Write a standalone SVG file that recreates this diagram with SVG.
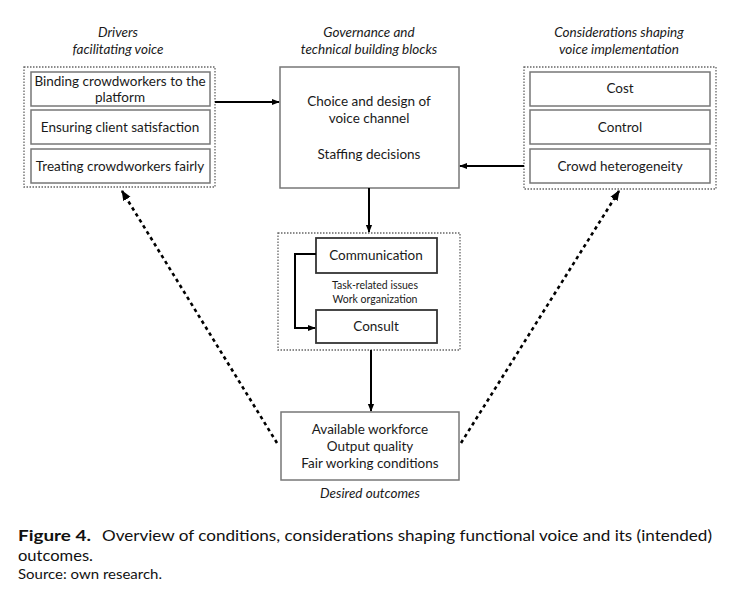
<svg xmlns="http://www.w3.org/2000/svg" width="739" height="602" viewBox="0 0 739 602">
<style>
.t{font-family:Lato,"Open Sans",sans-serif;font-size:13.5px;fill:#1a1a1a;text-anchor:middle}
.it{font-family:Lato,"Open Sans",sans-serif;font-size:13.5px;fill:#1a1a1a;text-anchor:middle;font-style:italic}
.box{fill:#fff;stroke:#777;stroke-width:1.5}
.dbox{fill:#fff;stroke:#333;stroke-width:1.8}
.grp{fill:none;stroke:#666;stroke-width:1.3;stroke-dasharray:1.5,1.5}
.ln{fill:none;stroke:#000;stroke-width:2}
.dl{fill:none;stroke:#000;stroke-width:2.6;stroke-dasharray:3.5,3.5}
.cap{font-family:Lato,"Open Sans",sans-serif;fill:#111}
</style>
<defs>
<marker id="ah" viewBox="0 0 10 10" refX="9" refY="5" markerWidth="4" markerHeight="4" orient="auto"><path d="M0,1 L10,5 L0,9 z" fill="#000"/></marker>
</defs>
<rect width="739" height="602" fill="#fff"/>

<g id="drivers">
<text class="it" x="118" y="37">Drivers</text>
<text class="it" x="118" y="54">facilitating voice</text>
<rect class="grp" x="24" y="67" width="191" height="120"/>
<rect class="box" x="31" y="72" width="179" height="34"/>
<text class="t" x="120" y="86">Binding crowdworkers to the</text>
<text class="t" x="120" y="102">platform</text>
<rect class="box" x="31" y="110" width="179" height="34"/>
<text class="t" x="120" y="132">Ensuring client satisfaction</text>
<rect class="box" x="31" y="149" width="179" height="34"/>
<text class="t" x="120" y="171">Treating crowdworkers fairly</text>
</g>

<g id="governance">
<text class="it" x="369" y="37">Governance and</text>
<text class="it" x="369" y="54">technical building blocks</text>
<rect class="box" x="280" y="67" width="179" height="121"/>
<text class="t" x="369" y="106">Choice and design of</text>
<text class="t" x="369" y="123">voice channel</text>
<text class="t" x="369" y="159">Staffing decisions</text>
</g>

<g id="considerations">
<text class="it" x="619" y="37">Considerations shaping</text>
<text class="it" x="619" y="54">voice implementation</text>
<rect class="grp" x="524" y="67" width="192" height="122"/>
<rect class="box" x="530" y="72" width="180" height="34"/>
<text class="t" x="620" y="93">Cost</text>
<rect class="box" x="530" y="110" width="180" height="34"/>
<text class="t" x="620" y="132">Control</text>
<rect class="box" x="530" y="149" width="180" height="34"/>
<text class="t" x="620" y="171">Crowd heterogeneity</text>
</g>

<g id="voice">
<rect class="grp" x="278" y="233" width="182" height="117"/>
<rect class="dbox" x="316" y="238" width="121" height="35"/>
<text class="t" x="376" y="260">Communication</text>
<text class="t" x="375" y="289" style="font-size:10.5px">Task-related issues</text>
<text class="t" x="375" y="303" style="font-size:10.5px">Work organization</text>
<rect class="dbox" x="316" y="310" width="121" height="33"/>
<text class="t" x="376" y="331">Consult</text>
</g>

<g id="outcomes">
<rect class="box" x="281" y="412" width="178" height="68"/>
<text class="t" x="370" y="434">Available workforce</text>
<text class="t" x="370" y="451">Output quality</text>
<text class="t" x="370" y="468">Fair working conditions</text>
<text class="it" x="370" y="498">Desired outcomes</text>
</g>

<g id="connectors">
<line class="ln" x1="215" y1="102" x2="279" y2="102" marker-end="url(#ah)"/>
<line class="ln" x1="524" y1="166" x2="460" y2="166" marker-end="url(#ah)"/>
<line class="ln" x1="369" y1="188" x2="369" y2="232" marker-end="url(#ah)"/>
<line class="ln" x1="371" y1="350" x2="371" y2="411" marker-end="url(#ah)"/>
<polyline class="ln" points="316,254 295,254 295,328 315,328" marker-end="url(#ah)"/>
<line class="dl" x1="277" y1="443" x2="122" y2="191" marker-end="url(#ah)"/>
<line class="dl" x1="461" y1="443" x2="619" y2="191" marker-end="url(#ah)"/>
</g>

<g id="caption">
<text class="cap" x="18" y="541" style="font-size:15px;font-weight:bold" textLength="73" lengthAdjust="spacingAndGlyphs">Figure 4.</text>
<text class="cap" x="102" y="541" style="font-size:15px" textLength="610" lengthAdjust="spacingAndGlyphs">Overview of conditions, considerations shaping functional voice and its (intended)</text>
<text class="cap" x="18" y="561" style="font-size:15px" textLength="75" lengthAdjust="spacingAndGlyphs">outcomes.</text>
<text class="cap" x="18" y="579" style="font-size:13px" textLength="144" lengthAdjust="spacingAndGlyphs">Source: own research.</text>
</g>
</svg>
